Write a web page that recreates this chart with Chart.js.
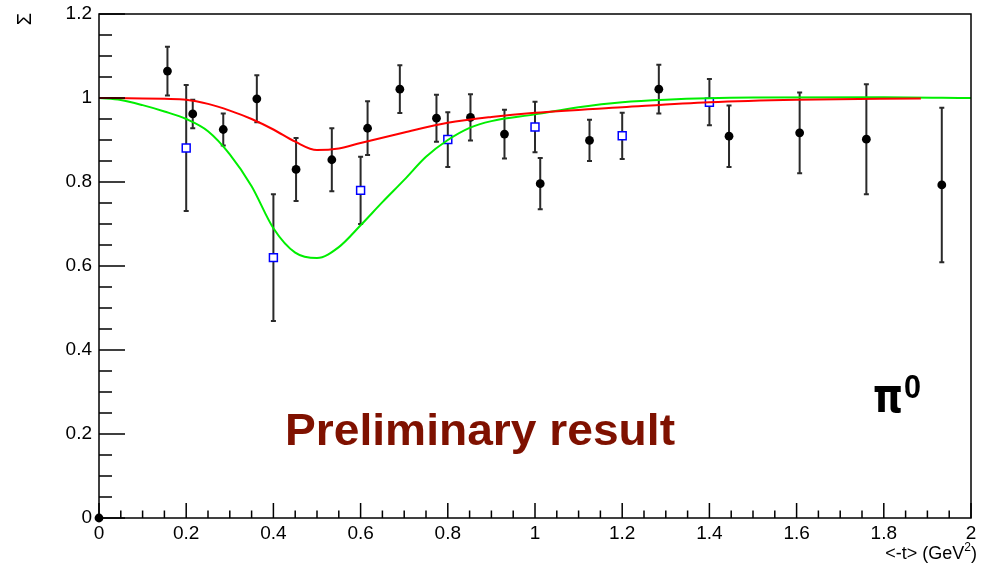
<!DOCTYPE html>
<html>
<head>
<meta charset="utf-8">
<script src="https://cdn.jsdelivr.net/npm/chart.js@4/dist/chart.umd.min.js"></script>
<style>
  html,body{margin:0;padding:0;background:#fff;}
  #wrap{width:982px;height:568px;}
</style>
</head>
<body>
<div id="wrap"><canvas id="c" width="982" height="568"></canvas></div>
<script>
// ── DATA ──
const blackT     = [0, 0.157, 0.215, 0.285, 0.362, 0.452, 0.534, 0.616, 0.690, 0.774, 0.852, 0.930, 1.012, 1.125, 1.284, 1.445, 1.607, 1.760, 1.933];
const blackSigma = [0, 1.064, 0.962, 0.925, 0.998, 0.830, 0.853, 0.928, 1.021, 0.952, 0.954, 0.914, 0.796, 0.899, 1.021, 0.909, 0.917, 0.902, 0.793];
const blackErr   = [0, 0.058, 0.034, 0.038, 0.056, 0.075, 0.075, 0.064, 0.057, 0.056, 0.055, 0.058, 0.061, 0.049, 0.058, 0.073, 0.096, 0.131, 0.184];

const blueT     = [0.2, 0.4, 0.6, 0.8, 1.0, 1.2, 1.4];
const blueSigma = [0.881, 0.620, 0.780, 0.901, 0.931, 0.910, 0.990];
const blueErr   = [0.150, 0.151, 0.080, 0.065, 0.060, 0.055, 0.055];

const redT     = [0, 0.1, 0.15, 0.2, 0.25, 0.3, 0.35, 0.4, 0.45, 0.5, 0.55, 0.6, 0.7, 0.8, 0.9, 1.0, 1.2, 1.4, 1.6, 1.885];
const redSigma = [1.0, 0.999, 0.998, 0.996, 0.986, 0.970, 0.950, 0.925, 0.896, 0.876, 0.880, 0.893, 0.918, 0.941, 0.955, 0.965, 0.978, 0.990, 0.996, 0.999];

const greenT     = [0, 0.05, 0.1, 0.15, 0.2, 0.25, 0.3, 0.35, 0.4, 0.45, 0.5, 0.55, 0.6, 0.65, 0.7, 0.75, 0.8, 0.85, 0.9, 1.0, 1.1, 1.2, 1.3, 1.5, 1.8, 2.0];
const greenSigma = [1.0, 0.995, 0.983, 0.968, 0.950, 0.921, 0.866, 0.790, 0.690, 0.632, 0.619, 0.645, 0.697, 0.752, 0.805, 0.860, 0.900, 0.929, 0.945, 0.961, 0.978, 0.990, 0.996, 1.001, 1.002, 1.0];

const xTicks = [0, 0.2, 0.4, 0.6, 0.8, 1, 1.2, 1.4, 1.6, 1.8, 2];
const yTicks = [0, 0.2, 0.4, 0.6, 0.8, 1, 1.2];

const FONT = "'Liberation Sans', Arial, Helvetica, sans-serif";
const pts = (xs, ys) => xs.map((x, i) => ({x, y: ys[i]}));
const lbl = v => String(Math.round(v * 10) / 10);

// error bars + ROOT style inward ticks and frame
const rootFrame = {
  id: 'rootFrame',
  beforeDatasetsDraw(chart){
    const {ctx} = chart, xs = chart.scales.x, ys = chart.scales.y;
    ctx.save();
    ctx.strokeStyle = '#2a2a2a'; ctx.lineWidth = 2;
    chart.data.datasets.forEach(ds => {
      if(!ds.errs) return;
      ds.data.forEach((p, i) => {
        const e = ds.errs[i]; if(!e) return;
        const px = xs.getPixelForValue(p.x);
        const y1 = ys.getPixelForValue(p.y + e), y2 = ys.getPixelForValue(p.y - e);
        ctx.beginPath();
        ctx.moveTo(px, y1); ctx.lineTo(px, y2);
        ctx.moveTo(px - 2.5, y1); ctx.lineTo(px + 2.5, y1);
        ctx.moveTo(px - 2.5, y2); ctx.lineTo(px + 2.5, y2);
        ctx.stroke();
      });
    });
    ctx.restore();
  },
  afterDraw(chart){
    const {ctx, chartArea:a} = chart, xs = chart.scales.x, ys = chart.scales.y;
    ctx.save();
    ctx.strokeStyle = '#000'; ctx.lineWidth = 1.5;
    ctx.strokeRect(a.left, a.top, a.right - a.left, a.bottom - a.top);
    ctx.beginPath();
    for(let i = 0; i <= 24; i++){
      const py = ys.getPixelForValue(i * 0.05);
      ctx.moveTo(a.left, py); ctx.lineTo(a.left + (i % 4 ? 13 : 26), py);
    }
    for(let i = 0; i <= 40; i++){
      const px = xs.getPixelForValue(i * 0.05);
      ctx.moveTo(px, a.bottom); ctx.lineTo(px, a.bottom - (i % 4 ? 7.5 : 15));
    }
    ctx.stroke();

    // axis titles
    ctx.fillStyle = '#000';
    ctx.textBaseline = 'alphabetic';
    ctx.textAlign = 'right';
    ctx.font = '18px ' + FONT;
    ctx.fillText(')', 977, 559);
    const wp = ctx.measureText(')').width;
    ctx.font = '12px ' + FONT;
    ctx.fillText('2', 977 - wp, 551);
    const w2 = ctx.measureText('2').width;
    ctx.font = '18px ' + FONT;
    ctx.fillText('<-t> (GeV', 977 - wp - w2, 559);

    ctx.save();
    ctx.translate(25.5, 19); ctx.rotate(-Math.PI / 2);
    ctx.textAlign = 'center'; ctx.textBaseline = 'middle';
    ctx.font = '20px ' + FONT;
    ctx.fillText('Σ', 0, 0);
    ctx.restore();

    // annotations
    ctx.textAlign = 'left'; ctx.textBaseline = 'alphabetic';
    ctx.fillStyle = '#7f1100';
    ctx.font = 'bold 44px ' + FONT;
    const txt = 'Preliminary result', w = ctx.measureText(txt).width;
    ctx.save();
    ctx.translate(285, 445); ctx.scale(390 / w, 1);
    ctx.fillText(txt, 0, 0);
    ctx.restore();

    ctx.fillStyle = '#000';
    ctx.font = "bold 48px 'DejaVu Sans', sans-serif";
    const wpi = ctx.measureText('π').width;
    ctx.save();
    ctx.translate(873, 412); ctx.scale(30 / wpi, 1);
    ctx.fillText('π', 0, 0);
    ctx.restore();
    ctx.font = 'bold 34px ' + FONT;
    const w0 = ctx.measureText('0').width;
    ctx.save();
    ctx.translate(904, 398); ctx.scale(17 / w0, 1);
    ctx.fillText('0', 0, 0);
    ctx.restore();
    ctx.restore();
  }
};

new Chart(document.getElementById('c'), {
  type: 'scatter',
  data: {
    datasets: [
      {label:'red', data: pts(redT, redSigma), showLine:true, borderColor:'#ff0000', borderWidth:2,
       pointRadius:0, cubicInterpolationMode:'monotone', order:0},
      {label:'green', data: pts(greenT, greenSigma), showLine:true, borderColor:'#00ee00', borderWidth:2,
       pointRadius:0, cubicInterpolationMode:'monotone', order:0},
      {label:'blue', data: pts(blueT, blueSigma), errs: blueErr, pointStyle:'rect', pointRadius:5.6,
       borderColor:'#0000ff', backgroundColor:'#fff', borderWidth:1.5, order:1},
      {label:'black', data: pts(blackT, blackSigma), errs: blackErr, pointStyle:'circle', pointRadius:4.4,
       borderColor:'#000', backgroundColor:'#000', borderWidth:0, order:2, clip:false}
    ]
  },
  options: {
    responsive:false, animation:false, events:[],
    layout:{padding:{top:14, right:11, left:0, bottom:0}},
    plugins:{legend:{display:false}, tooltip:{enabled:false}},
    scales:{
      x:{type:'linear', min:0, max:2,
         afterFit(s){ s.height = 50; s.paddingLeft = 0; s.paddingRight = 0; },
         afterBuildTicks(s){ s.ticks = xTicks.map(v => ({value:v})); },
         grid:{display:false, drawTicks:false}, border:{display:false},
         ticks:{padding:4, color:'#000', font:{family:FONT, size:19}, callback:lbl}},
      y:{type:'linear', min:0, max:1.2,
         afterFit(s){ s.width = 99; s.paddingTop = 0; s.paddingBottom = 0; },
         afterBuildTicks(s){ s.ticks = yTicks.map(v => ({value:v})); },
         grid:{display:false, drawTicks:false}, border:{display:false},
         ticks:{padding:7, color:'#000', font:{family:FONT, size:19}, callback:lbl}}
    }
  },
  plugins:[rootFrame]
});
</script>
</body>
</html>
